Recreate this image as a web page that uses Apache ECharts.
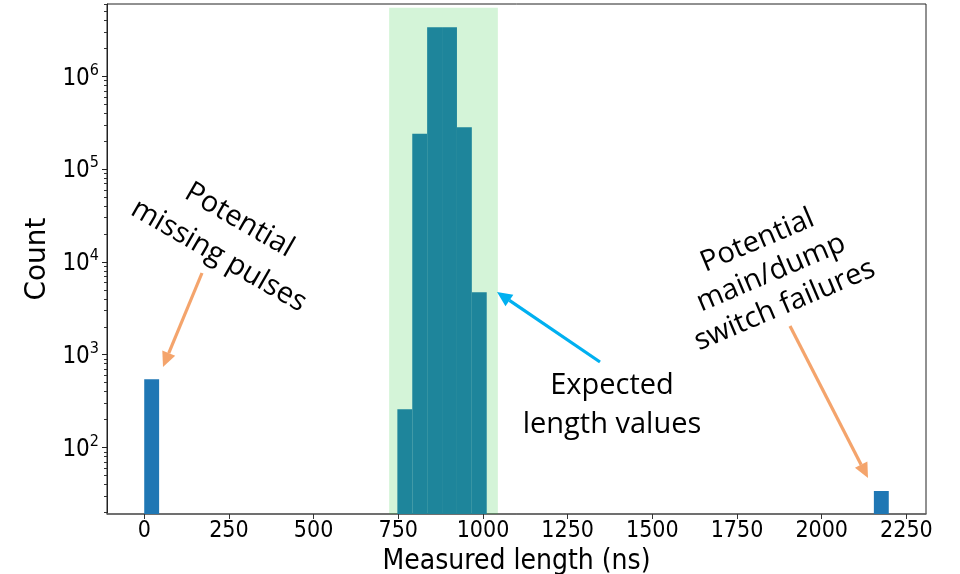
<!DOCTYPE html>
<html>
<head>
<meta charset="utf-8">
<script src="https://cdn.jsdelivr.net/npm/echarts@6/dist/echarts.min.js"></script>
<style>
  html, body { margin: 0; padding: 0; background: #ffffff; }
  #chart { width: 960px; height: 574px; }
</style>
</head>
<body>
<div id="chart"></div>
<script>
// Histogram bins (ns) and their counts
const binLeft  = [0,     747.3, 791.3,  835.2,   879.2,   923.2,  967.1, 2154.0];
const binRight = [43.96, 791.3, 835.2,  879.2,   923.2,   967.1, 1011.1, 2198.0];
const counts   = [545,   258,   241000, 3400000, 3400000, 284000, 4720,  34];

// Shaded band of expected lengths (ns) and its top (count scale)
const expectedRange = [723, 1044];
const expectedTop = 5.5e6;

// Axis ticks
const xTicks = [0, 250, 500, 750, 1000, 1250, 1500, 1750, 2000, 2250];
const yTicks = [1e2, 1e3, 1e4, 1e5, 1e6];
const yMinorTicks = [];
for (let e = 1; e <= 6; e++) {
  for (let m = 2; m <= 9; m++) yMinorTicks.push(m * Math.pow(10, e));
}

const X_MIN = -109.9, X_MAX = 2307.9;
const Y_MIN = 19.2, Y_MAX = 6.04e6;

const GRID_LEFT = 107, GRID_RIGHT = 34;
const GRID_WIDTH = 960 - GRID_LEFT - GRID_RIGHT;

const COND = '"DejaVu Sans Condensed", "DejaVu Sans"';

const chart = echarts.init(document.getElementById('chart'), null, { renderer: 'canvas' });

function arrow(x1, y1, x2, y2, color) {
  const dx = x2 - x1, dy = y2 - y1;
  const len = Math.sqrt(dx * dx + dy * dy);
  const ux = dx / len, uy = dy / len;
  const headL = 15, headW = 7;
  const bx = x2 - ux * headL, by = y2 - uy * headL;
  return {
    type: 'group',
    z: 100,
    children: [
      { type: 'line', shape: { x1: x1, y1: y1, x2: bx, y2: by },
        style: { stroke: color, lineWidth: 3.2 } },
      { type: 'polygon',
        shape: { points: [[x2, y2], [bx - uy * headW, by + ux * headW], [bx + uy * headW, by - ux * headW]] },
        style: { fill: color } }
    ]
  };
}

function note(x, y, rotDeg, text, lineHeight) {
  return {
    type: 'text', x: x, y: y, z: 100,
    rotation: rotDeg * Math.PI / 180,
    style: {
      text: text, fill: '#000', font: '29px "Open Sans"',
      align: 'center', verticalAlign: 'middle', lineHeight: lineHeight
    }
  };
}

const ORANGE = '#F4A46C', CYAN = '#00B0F0';

const option = {
  backgroundColor: '#ffffff',
  animation: false,
  grid: {
    left: GRID_LEFT, right: GRID_RIGHT, top: 4, bottom: 60,
    show: true, borderColor: '#222', borderWidth: 1,
    containLabel: false, outerBoundsMode: 'none'
  },
  xAxis: {
    type: 'value', min: X_MIN, max: X_MAX,
    splitLine: { show: false },
    axisLine: { show: true, onZero: false, lineStyle: { color: '#666', width: 1.6 } },
    axisTick: { show: true, customValues: xTicks, length: 5, lineStyle: { color: '#333' } },
    axisLabel: {
      customValues: xTicks, color: '#000', fontSize: 23, margin: 6,
      fontFamily: COND,
      formatter: function (v) { return String(v); }
    },
    name: 'Measured length (ns)', nameLocation: 'middle', nameGap: 31,
    nameTextStyle: { fontSize: 28, color: '#000', fontFamily: COND }
  },
  yAxis: [
    {
      type: 'log', logBase: 10, min: Y_MIN, max: Y_MAX, position: 'left',
      splitLine: { show: false },
      axisLine: { show: true, onZero: false, lineStyle: { color: '#222', width: 1 } },
      axisTick: { show: true, customValues: yTicks, length: 5, lineStyle: { color: '#222' } },
      axisLabel: {
        customValues: yTicks, margin: 8,
        formatter: function (v) { return '{b|10}{s|' + Math.round(Math.log10(v)) + '}'; },
        rich: {
          b: { fontSize: 24, color: '#000', fontFamily: COND, lineHeight: 28, verticalAlign: 'bottom' },
          s: { fontSize: 16, color: '#000', fontFamily: COND, lineHeight: 28, verticalAlign: 'top' }
        }
      },
      name: 'Count', nameLocation: 'middle', nameGap: 49,
      nameTextStyle: { fontSize: 28, color: '#000', fontFamily: 'DejaVu Sans' }
    },
    {
      // minor ticks of the log scale, carried by a second axis moved onto the left edge
      type: 'log', logBase: 10, min: Y_MIN, max: Y_MAX,
      position: 'right', offset: -GRID_WIDTH,
      splitLine: { show: false },
      axisLine: { show: false, onZero: false },
      axisTick: { show: true, inside: true, customValues: yMinorTicks, length: 3, lineStyle: { color: '#333' } },
      axisLabel: { show: false }
    }
  ],
  series: [
    {
      name: 'Count', type: 'custom', z: 2,
      data: binLeft.map((l, i) => [l, binRight[i], counts[i]]),
      encode: { x: [0, 1], y: 2 },
      renderItem: function (params, api) {
        const p0 = api.coord([api.value(0), api.value(2)]);
        const p1 = api.coord([api.value(1), api.value(2)]);
        const base = params.coordSys.y + params.coordSys.height;
        return {
          type: 'rect',
          shape: { x: p0[0], y: p0[1], width: p1[0] - p0[0], height: base - p0[1] },
          style: { fill: '#1f77b4' }
        };
      }
    },
    {
      name: 'Expected', type: 'custom', z: 3, silent: true,
      data: [[expectedRange[0], expectedRange[1], expectedTop]],
      encode: { x: [0, 1], y: 2 },
      renderItem: function (params, api) {
        const p0 = api.coord([api.value(0), api.value(2)]);
        const p1 = api.coord([api.value(1), api.value(2)]);
        const base = params.coordSys.y + params.coordSys.height;
        return {
          type: 'rect',
          shape: { x: p0[0], y: p0[1], width: p1[0] - p0[0], height: base - p0[1] },
          style: { fill: 'rgba(29,197,50,0.19)' }
        };
      }
    }
  ],
  graphic: [
    note(229, 238, -30, 'Potential\nmissing pulses', 41),
    arrow(202, 273, 163, 367, ORANGE),
    note(612, 405, 0, 'Expected\nlength values', 39),
    arrow(600, 362, 497, 292, CYAN),
    note(771, 273, 23, 'Potential\nmain/dump\nswitch failures', 35),
    arrow(790, 326, 868, 478, ORANGE)
  ]
};

chart.setOption(option);
</script>
</body>
</html>
